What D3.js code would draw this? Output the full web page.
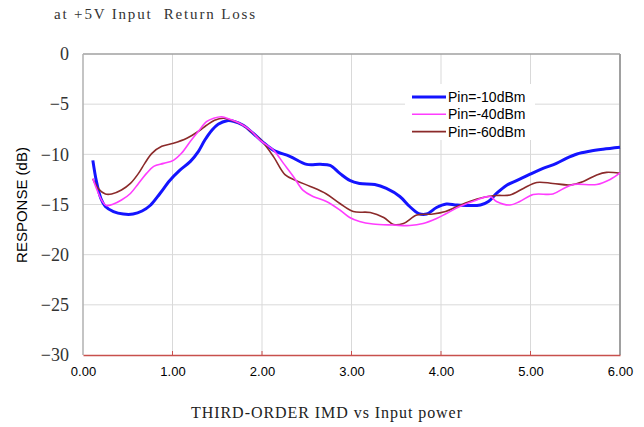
<!DOCTYPE html>
<html><head><meta charset="utf-8">
<script src="https://cdn.jsdelivr.net/npm/d3@7"></script>
<style>body{margin:0;background:#fff}svg{display:block}</style>
</head><body>
<script>
const title = "at +5V Input  Return Loss";
const xTitle = "THIRD-ORDER IMD vs Input power";
const yTitle = "RESPONSE (dB)";
const xTicks = [0,1,2,3,4,5,6];
const yTicks = [0,-5,-10,-15,-20,-25,-30];
const seriesNames = ["Pin=-10dBm","Pin=-40dBm","Pin=-60dBm"];

const blueX = [0.11,0.15,0.20,0.25,0.34,0.45,0.56,0.66,0.75,0.86,0.97,1.08,1.20,1.29,1.36,1.44,1.51,1.61,1.68,1.79,1.90,2.00,2.13,2.31,2.50,2.65,2.76,2.87,2.98,3.09,3.26,3.39,3.54,3.65,3.75,3.84,3.95,4.06,4.18,4.44,4.53,4.62,4.73,4.85,4.99,5.14,5.29,5.40,5.52,5.66,5.81,6.00];
const blueY = [-10.6,-12.7,-14.4,-15.2,-15.7,-15.95,-15.95,-15.65,-15.1,-13.9,-12.6,-11.6,-10.7,-9.7,-8.6,-7.6,-7.0,-6.65,-6.7,-7.1,-7.9,-8.7,-9.6,-10.2,-11.0,-11.0,-11.1,-11.9,-12.6,-12.9,-13.0,-13.4,-14.2,-15.2,-15.9,-15.95,-15.3,-14.95,-15.05,-15.05,-14.7,-13.9,-13.1,-12.6,-12.0,-11.4,-10.9,-10.4,-9.97,-9.7,-9.5,-9.3];

const magX = [0.11,0.15,0.21,0.26,0.34,0.43,0.53,0.62,0.71,0.79,0.90,1.01,1.10,1.20,1.29,1.38,1.46,1.55,1.64,1.75,1.87,1.98,2.13,2.24,2.35,2.46,2.57,2.72,2.87,2.98,3.09,3.24,3.47,3.65,3.80,3.95,4.06,4.21,4.40,4.55,4.62,4.77,4.88,5.03,5.25,5.37,5.48,5.74,5.89,6.00];
const magY = [-12.4,-13.4,-14.6,-15.1,-14.95,-14.55,-13.9,-12.9,-11.9,-11.2,-10.9,-10.6,-9.9,-8.7,-7.7,-6.75,-6.4,-6.25,-6.5,-6.9,-7.6,-8.6,-9.6,-10.9,-12.2,-13.6,-14.2,-14.7,-15.55,-16.3,-16.7,-16.95,-17.05,-17.1,-16.9,-16.4,-15.9,-15.2,-14.55,-14.2,-14.7,-15.05,-14.7,-14.0,-13.95,-13.4,-13.0,-13.0,-12.5,-11.85];

const brnX = [0.11,0.17,0.25,0.32,0.43,0.53,0.62,0.69,0.77,0.88,1.01,1.16,1.29,1.38,1.47,1.57,1.66,1.79,1.90,2.00,2.13,2.26,2.39,2.54,2.72,2.87,3.02,3.21,3.36,3.47,3.58,3.73,3.91,4.05,4.18,4.32,4.47,4.62,4.77,4.92,5.07,5.25,5.44,5.59,5.74,5.85,6.00];
const brnY = [-12.45,-13.4,-13.95,-13.95,-13.55,-12.9,-11.9,-10.9,-9.9,-9.2,-8.9,-8.4,-7.7,-7.1,-6.6,-6.4,-6.6,-7.1,-7.9,-8.7,-10.25,-12.05,-12.65,-13.2,-13.95,-14.9,-15.7,-15.8,-16.3,-17.0,-16.9,-16.05,-15.95,-15.7,-15.2,-14.7,-14.3,-14.1,-14.05,-13.4,-12.8,-12.9,-13.05,-12.7,-12.05,-11.8,-11.9];

const colors = ["#1414ff","#ff3cff","#8b2a2a"];
const widths = [3,1.6,1.6];

const W = 644, H = 427;
const svg = d3.select("body").append("svg").attr("width",W).attr("height",H);
const x = d3.scaleLinear().domain([0,6]).range([83,620]);
const y = d3.scaleLinear().domain([-30,0]).range([355,54]);

// gridlines
svg.append("g").selectAll("line.v").data(xTicks.slice(1,-1)).join("line")
  .attr("x1",d=>x(d)).attr("x2",d=>x(d)).attr("y1",y(0)).attr("y2",y(-30))
  .attr("stroke","#d9d9d9").attr("stroke-width",1);
svg.append("g").selectAll("line.h").data(yTicks.slice(1,-1)).join("line")
  .attr("x1",x(0)).attr("x2",x(6)).attr("y1",d=>y(d)).attr("y2",d=>y(d))
  .attr("stroke","#d9d9d9").attr("stroke-width",1);

// frame
svg.append("line").attr("x1",x(0)).attr("x2",x(6)).attr("y1",y(0)).attr("y2",y(0)).attr("stroke","#a0a0a0").attr("stroke-width",1.5);
svg.append("line").attr("x1",x(6)).attr("x2",x(6)).attr("y1",y(0)).attr("y2",y(-30)).attr("stroke","#a0a0a0").attr("stroke-width",2);
svg.append("line").attr("x1",x(0)).attr("x2",x(0)).attr("y1",y(0)).attr("y2",y(-30)).attr("stroke","#b0b0b0").attr("stroke-width",1.5);

// axes
const xAxis = d3.axisBottom(x).tickValues(xTicks).tickFormat(d3.format(".2f")).tickSize(0).tickPadding(12);
const gx = svg.append("g").attr("transform",`translate(0,${y(-30)})`).call(xAxis);
gx.select(".domain").attr("stroke","#c8504d").attr("stroke-width",1.5);
gx.selectAll("text").attr("font-family","Liberation Sans, Arial, sans-serif").attr("font-size",13).attr("fill","#000");
svg.append("g").selectAll("line").data(xTicks.slice(1,-1)).join("line")
  .attr("x1",d=>x(d)).attr("x2",d=>x(d)).attr("y1",y(-30)).attr("y2",y(-30)-4)
  .attr("stroke","#c8504d").attr("stroke-width",1);

const yAxis = d3.axisLeft(y).tickValues(yTicks).tickFormat(d=> d===0 ? "0" : "\u2212"+Math.abs(d)).tickSize(0).tickPadding(14);
const gy = svg.append("g").attr("transform",`translate(${x(0)},0)`).call(yAxis);
gy.select(".domain").remove();
gy.selectAll("text").attr("font-family","Liberation Serif, Times New Roman, serif").attr("font-size",18).attr("fill","#333");

// series
const allX = [blueX,magX,brnX], allY = [blueY,magY,brnY];
const line = d3.line().x(d=>x(d[0])).y(d=>y(d[1])).curve(d3.curveCatmullRom.alpha(0.5));
[0,2,1].forEach(i=>{
  const pts = allX[i].map((v,k)=>[v,allY[i][k]]);
  svg.append("path").datum(pts).attr("d",line).attr("fill","none")
    .attr("stroke",colors[i]).attr("stroke-width",widths[i]).attr("stroke-linejoin","round");
});

// legend
const lg = svg.append("g");
lg.append("rect").attr("x",405).attr("y",84).attr("width",130).attr("height",56).attr("fill","#fff");
seriesNames.forEach((n,i)=>{
  const yy = 97 + i*17.3;
  lg.append("line").attr("x1",412).attr("x2",446).attr("y1",yy).attr("y2",yy)
    .attr("stroke",colors[i]).attr("stroke-width",widths[i]);
  lg.append("text").attr("x",448).attr("y",yy+5).text(n)
    .attr("font-family","Liberation Sans, Arial, sans-serif").attr("font-size",14).attr("fill","#000");
});

// titles
svg.append("text").attr("x",54).attr("y",19).text(title)
  .attr("font-family","Liberation Serif, Times New Roman, serif").attr("font-size",15).attr("fill","#333")
  .attr("textLength",201).attr("lengthAdjust","spacing")
  .style("white-space","pre");
svg.append("text").attr("x",191).attr("y",418).text(xTitle)
  .attr("font-family","Liberation Serif, Times New Roman, serif").attr("font-size",16).attr("fill","#222")
  .attr("textLength",271).attr("lengthAdjust","spacing");
svg.append("text").attr("transform","translate(27,205) rotate(-90)").attr("text-anchor","middle").text(yTitle)
  .attr("font-family","Liberation Sans, Arial, sans-serif").attr("font-size",15).attr("fill","#000");
</script>
</body></html>
